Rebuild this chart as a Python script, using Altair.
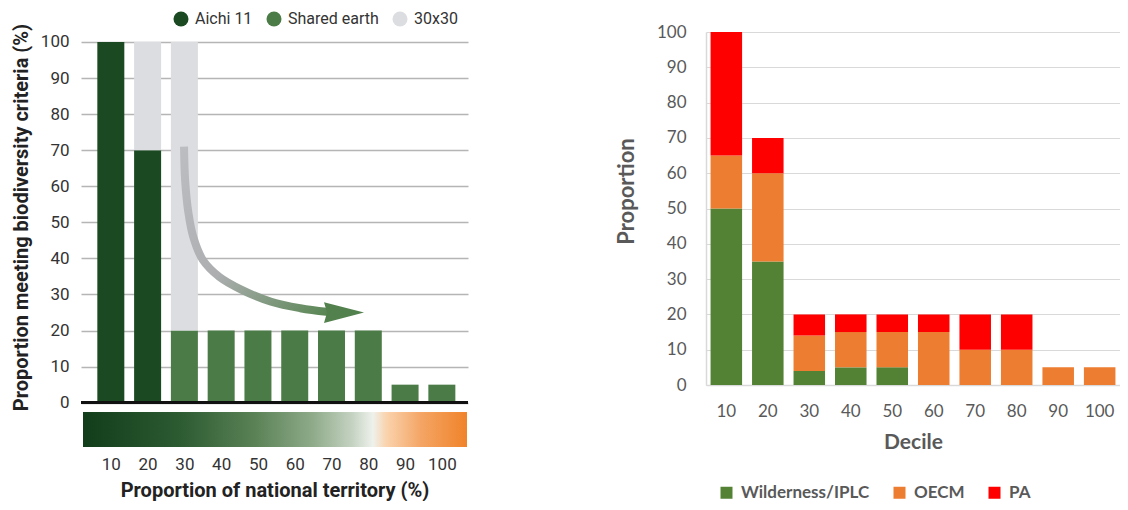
import altair as alt
import pandas as pd

# ---------------- data ----------------
deciles = [10, 20, 30, 40, 50, 60, 70, 80, 90, 100]
decile_labels = [str(d) for d in deciles]

# left panel (Aichi 11 / Shared earth / 30x30)
left_series = ["Aichi 11", "Shared earth", "30x30"]
left_colors = ["#1b4a22", "#4b7b46", "#dcdde0"]
aichi = [100, 70, 0, 0, 0, 0, 0, 0, 0, 0]
shared_earth = [0, 0, 20, 20, 20, 20, 20, 20, 5, 5]
thirty_by_thirty = [0, 30, 80, 0, 0, 0, 0, 0, 0, 0]

# curved arrow (in decile / percent units)
arrow_x = [29.9, 30.2, 31.1, 32.4, 35.0, 39.5, 45.6, 53.6, 61.5, 68.6, 71.0]
arrow_y = [71.0, 61.7, 52.6, 46.0, 39.6, 34.9, 31.3, 28.0, 26.2, 25.2, 25.0]
arrow_head_x = [73.4]
arrow_head_y = [25.0]

# right panel (Wilderness/IPLC / OECM / PA)
right_series = ["Wilderness/IPLC", "OECM", "PA"]
right_colors = ["#548235", "#ed7d31", "#ff0000"]
wilderness = [50, 35, 4, 5, 5, 0, 0, 0, 0, 0]
oecm = [15, 25, 10, 10, 10, 15, 10, 10, 5, 5]
pa = [35, 10, 6, 5, 5, 5, 10, 10, 0, 0]

# ---------------- tables ----------------
rows = []
for k, (s, vals) in enumerate(zip(left_series, [aichi, shared_earth, thirty_by_thirty])):
    for d, v in zip(deciles, vals):
        rows.append({"decile": d, "series": s, "value": v, "k": k})
left_df = pd.DataFrame(rows)

rows = []
for k, (s, vals) in enumerate(zip(right_series, [wilderness, oecm, pa])):
    for d, v in zip(decile_labels, vals):
        rows.append({"decile": d, "series": s, "value": v, "k": k})
right_df = pd.DataFrame(rows)

arrow_df = pd.DataFrame({"decile": arrow_x, "value": arrow_y, "i": list(range(len(arrow_x)))})
head_df = pd.DataFrame({"decile": arrow_head_x, "value": arrow_head_y})

lf = "Roboto"

# ---------------- left panel ----------------
xs_l = alt.Scale(domain=[3.25, 105.75], nice=False, zero=False)
ys_l = alt.Scale(domain=[-12.28, 102.77], nice=False, zero=False)

bars_l = alt.Chart(left_df).mark_bar(size=27).encode(
    x=alt.X("decile:Q", scale=xs_l,
            axis=alt.Axis(values=deciles, format="d", title="Proportion of national territory (%)",
                          grid=False, domain=False, ticks=False, tickSize=0, labelPadding=9,
                          labelFlush=False, labelOverlap=False,
                          labelFont=lf, labelFontSize=17, labelColor="#333333",
                          titleFont=lf, titleFontSize=20, titleFontWeight="bold",
                          titleColor="#222222", titlePadding=8)),
    y=alt.Y("value:Q", stack="zero", scale=ys_l,
            axis=alt.Axis(values=list(range(0, 101, 10)),
                          title="Proportion meeting biodiversity criteria (%)",
                          grid=True, gridColor="#b5b5b5", gridWidth=1.5,
                          domain=False, ticks=False, tickSize=0, labelPadding=12,
                          labelFont=lf, labelFontSize=17, labelColor="#333333",
                          titleFont=lf, titleFontSize=20, titleFontWeight="bold",
                          titleColor="#222222", titlePadding=9, titleY=185)),
    color=alt.Color("series:N", scale=alt.Scale(domain=left_series, range=left_colors),
                    legend=alt.Legend(title=None, orient="none", legendX=92, legendY=-21,
                                      direction="horizontal", symbolType="circle",
                                      symbolSize=225, symbolStrokeWidth=0,
                                      labelFont=lf, labelFontSize=16, labelColor="#333333",
                                      columnPadding=13, labelOffset=6)),
    order=alt.Order("k:Q"),
)

arrow_line = alt.Chart(arrow_df).mark_line(
    strokeWidth=8, interpolate="catmull-rom", strokeCap="butt",
    stroke=alt.Gradient(gradient="linear",
                        stops=[alt.GradientStop(color="#bcbdc1", offset=0),
                               alt.GradientStop(color="#acaeb0", offset=0.5),
                               alt.GradientStop(color="#55844f", offset=1)],
                        x1=0, y1=0, x2=1, y2=1),
).encode(
    x=alt.X("decile:Q", scale=xs_l),
    y=alt.Y("value:Q", scale=ys_l),
    order="i:Q",
)

arrow_head = alt.Chart(head_df).mark_point(
    shape="M -1 -0.52 L 1 0 L -1 0.52 L -0.85 0 Z", size=1600, filled=True,
    fill="#52814d", opacity=1, strokeWidth=0,
).encode(
    x=alt.X("decile:Q", scale=xs_l),
    y=alt.Y("value:Q", scale=ys_l),
)

zero_rule = alt.Chart(left_df).mark_rule(color="#111111", strokeWidth=2.5).encode(
    y=alt.Y(datum=0, scale=ys_l),
)

gradient_bar = alt.Chart(left_df).mark_rect(
    fill=alt.Gradient(gradient="linear",
                      stops=[alt.GradientStop(color="#123d1a", offset=0),
                             alt.GradientStop(color="#2c5a31", offset=0.25),
                             alt.GradientStop(color="#5b8257", offset=0.45),
                             alt.GradientStop(color="#8fab8a", offset=0.6),
                             alt.GradientStop(color="#c4d2c1", offset=0.7),
                             alt.GradientStop(color="#eef1ec", offset=0.755),
                             alt.GradientStop(color="#fad3ad", offset=0.79),
                             alt.GradientStop(color="#f4a565", offset=0.88),
                             alt.GradientStop(color="#f0832a", offset=1)],
                      x1=0, y1=0, x2=1, y2=0),
).encode(
    x=alt.value(2), x2=alt.value(386),
    y=alt.Y(datum=-2.77, scale=ys_l),
    y2=alt.datum(-12.2),
)

left = alt.layer(bars_l, arrow_line, arrow_head, zero_rule, gradient_bar).properties(
    width=387, height=415)

# ---------------- right panel ----------------
right = alt.Chart(right_df).mark_bar().encode(
    x=alt.X("decile:N", sort=decile_labels,
            scale=alt.Scale(paddingInner=0.24, paddingOuter=0.11),
            axis=alt.Axis(title="Decile", labelAngle=0, domain=True, domainColor="#d9d9d9",
                          domainWidth=1.5, ticks=False, tickSize=0, labelPadding=18,
                          labelFont="Lato", labelFontSize=17, labelColor="#595959",
                          titleFont="Lato", titleFontSize=21, titleFontWeight="bold",
                          titleColor="#595959", titlePadding=12)),
    y=alt.Y("value:Q", stack="zero", scale=alt.Scale(domain=[0, 100], nice=False),
            axis=alt.Axis(values=list(range(0, 101, 10)), title="Proportion",
                          grid=True, gridColor="#d9d9d9", gridWidth=1,
                          domain=True, domainColor="#d9d9d9", domainWidth=1.5,
                          ticks=False, tickSize=0, labelPadding=20,
                          labelFont="Lato", labelFontSize=17, labelColor="#595959",
                          titleFont="Lato", titleFontSize=22, titleFontWeight="bold",
                          titleColor="#595959", titlePadding=18, titleY=159)),
    color=alt.Color("series:N", scale=alt.Scale(domain=right_series, range=right_colors),
                    legend=alt.Legend(title=None, orient="none", legendX=12, legendY=452,
                                      direction="horizontal", symbolType="square",
                                      symbolSize=144, symbolStrokeWidth=0,
                                      labelFont="Lato", labelFontSize=17,
                                      labelFontWeight="bold", labelColor="#595959",
                                      columnPadding=21, labelOffset=6)),
    order=alt.Order("k:Q"),
).properties(width=414, height=353)

chart = alt.hconcat(left, right, spacing=238, bounds="flush").resolve_scale(
    color="independent").properties(
    padding={"top": 3, "left": 3, "right": 0, "bottom": 0}
).configure_view(stroke=None)

chart.save("out.html", embed_options={"renderer": "svg", "actions": False})
